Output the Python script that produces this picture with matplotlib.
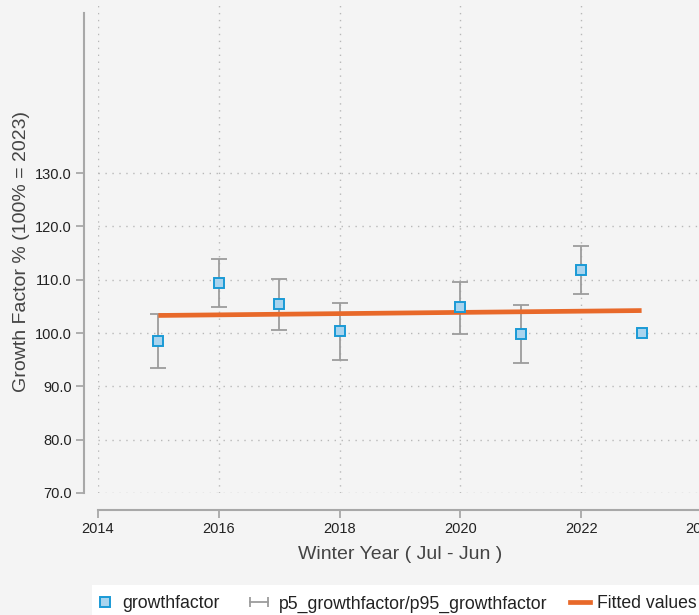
import matplotlib
matplotlib.use("Agg")
import matplotlib.pyplot as plt
import numpy as np
from matplotlib.lines import Line2D
from matplotlib.patches import Rectangle

years = [2015, 2016, 2017, 2018, 2020, 2021, 2022, 2023]
growthfactor = [98.5, 109.3, 105.4, 100.3, 104.9, 99.8, 111.8, 100.0]
p5 = [93.4, 104.8, 100.5, 95.0, 99.9, 94.4, 107.3, None]
p95 = [103.5, 113.9, 110.1, 105.6, 109.6, 105.2, 116.3, None]
xticks = [2014, 2016, 2018, 2020, 2022, 2024]
yticks = [70, 80, 90, 100, 110, 120, 130]
legend_labels = ["growthfactor", "p5_growthfactor/p95_growthfactor", "Fitted values"]

plt.rcParams['font.family'] = ['Liberation Sans', 'DejaVu Sans']
BG = '#f4f4f4'
W, H = 699, 615
X0, X1 = 98, 732
fig = plt.figure(figsize=(W / 100, H / 100), dpi=100, facecolor=BG)
ax = fig.add_axes([X0 / W, (H - 493) / H, (X1 - X0) / W, 493 / H], facecolor=BG)

xmax = 2014 + (X1 - X0) / 60.4
ax.set_xlim(2014, xmax)
ax.set_ylim(70, 70 + 493 / 5.333)

grid_kw = dict(color='#b8b8b8', lw=1.0, linestyle=(0, (1, 4)), zorder=0)
for xt in xticks:
    ax.axvline(xt, **grid_kw)
for yt in yticks:
    ax.axhline(yt, **grid_kw)

MC_FACE, MC_EDGE = '#a9d4ee', '#1a9ad6'
ERR_C = '#9c9c9c'
FIT_C = '#e8692a'

# error bars
ex = [y for y, a in zip(years, p5) if a is not None]
elo = [g - a for g, a in zip(growthfactor, p5) if a is not None]
ehi = [b - g for g, b in zip(growthfactor, p95) if b is not None]
eg = [g for g, a in zip(growthfactor, p5) if a is not None]
ax.errorbar(ex, eg, yerr=[elo, ehi], fmt='none', ecolor=ERR_C, elinewidth=1.3,
            capsize=6, capthick=1.3, zorder=2)

# fitted line (linear fit of growthfactor on year)
coef = np.polyfit(years, growthfactor, 1)
fx = np.array([min(years), max(years)])
ax.plot(fx, np.polyval(coef, fx), color=FIT_C, lw=3.4, zorder=3, solid_capstyle='butt')

ax.plot(years, growthfactor, linestyle='none', marker='s', markersize=7.3,
        markerfacecolor=MC_FACE, markeredgecolor=MC_EDGE, markeredgewidth=1.4, zorder=4)

for side in ['top', 'right']:
    ax.spines[side].set_visible(False)
ax.spines['left'].set_position(('outward', 10))
ax.spines['bottom'].set_position(('outward', 12))
ax.spines['left'].set_bounds(70, 160)
ax.spines['bottom'].set_bounds(2014, xmax)
for side in ['left', 'bottom']:
    ax.spines[side].set_color('#a8a8a8')
    ax.spines[side].set_linewidth(1.5)

ax.set_xticks(xticks)
ax.set_xticklabels([str(t) for t in xticks])
ax.set_yticks(yticks)
ax.set_yticklabels([f"{t:.1f}" for t in yticks])
ax.tick_params(axis='both', colors='#a8a8a8', labelcolor='#222222', labelsize=10.5,
               length=6, width=1.3)
ax.tick_params(axis='x', pad=3)
ax.tick_params(axis='y', pad=3)

ax.set_ylabel("Growth Factor % (100% = 2023)", fontsize=14, color='#444444')
ax.set_xlabel("Winter Year ( Jul - Jun )", fontsize=14, color='#444444')
ax.xaxis.set_label_coords((400 - X0) / (X1 - X0), -(546 - 493) / 493)
ax.yaxis.set_label_coords(-(X0 - 30) / (X1 - X0), (493 - 252) / 493)

# legend box and entries (drawn in pixel positions of the figure)
fig.patches.append(Rectangle((92 / W, 0), (W - 92) / W, 30 / H, transform=fig.transFigure,
                             facecolor='white', edgecolor='none'))
ly = 1 - 602 / H
def fx_(px):
    return px / W
fig.add_artist(Line2D([fx_(105)], [ly], linestyle='none', marker='s', markersize=6.5,
                      markerfacecolor=MC_FACE, markeredgecolor=MC_EDGE, markeredgewidth=1.4,
                      transform=fig.transFigure))
fig.add_artist(Line2D([fx_(250), fx_(268)], [ly, ly], color=ERR_C, lw=1.3,
                      transform=fig.transFigure))
fig.add_artist(Line2D([fx_(250), fx_(268)], [ly, ly], color=ERR_C, lw=0, marker='|',
                      markersize=7, markeredgewidth=1.3, transform=fig.transFigure))
fig.add_artist(Line2D([fx_(570), fx_(590)], [ly, ly], color=FIT_C, lw=3.4,
                      transform=fig.transFigure))
for px, lab in zip([122, 279, 597], legend_labels):
    fig.text(fx_(px), ly, lab, fontsize=12.7, color='#222222', ha='left', va='center_baseline')

fig.savefig("out.png", dpi=100, facecolor=BG)
